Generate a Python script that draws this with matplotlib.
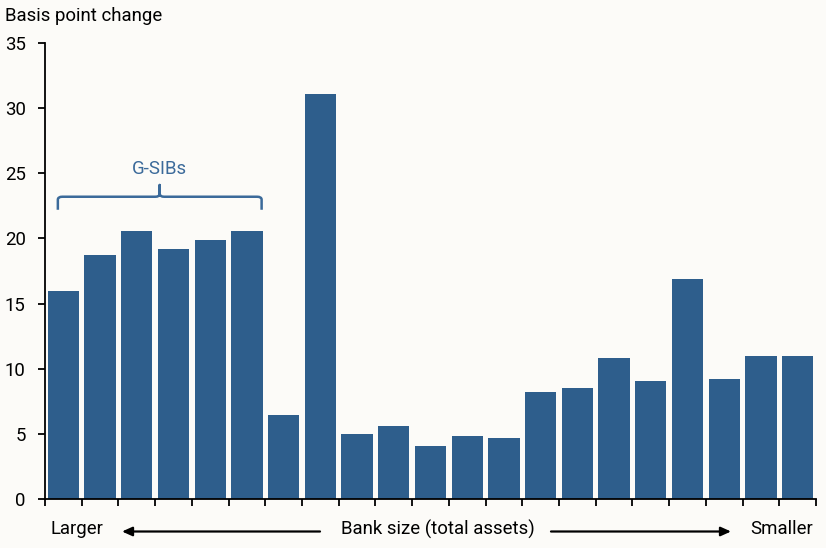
import matplotlib
matplotlib.use("Agg")
import matplotlib.pyplot as plt
from matplotlib.path import Path
from matplotlib.patches import PathPatch, FancyArrowPatch

plt.rcParams['font.family'] = ['Roboto', 'DejaVu Sans']

values = [16.0, 18.7, 20.6, 19.2, 19.9, 20.6, 6.45, 31.05, 5.0, 5.6, 4.07,
          4.84, 4.68, 8.2, 8.52, 10.82, 9.06, 16.88, 9.2, 10.97, 10.97]
y_ticks = [0, 5, 10, 15, 20, 25, 30, 35]
y_label = "Basis point change"
group_label = "G-SIBs"
bottom_left = "Larger"
bottom_mid = "Bank size (total assets)"
bottom_right = "Smaller"

bg = "#FCFBF8"
bar_color = "#2E5E8C"
brace_color = "#3B6A9A"
fs = 13.4

fig = plt.figure(figsize=(8.26, 5.48), dpi=100, facecolor=bg)
W, H = 826, 548
ax = fig.add_axes([45 / W, 1 - 499 / H, (816 - 45) / W, (499 - 43) / H])
ax.set_facecolor(bg)

x = list(range(len(values)))
ax.bar(x, values, width=0.85, color=bar_color, zorder=2)
ax.set_xlim(-0.5, len(values) - 0.5)
ax.set_ylim(0, 35)
ax.set_yticks(y_ticks)
ax.set_xticks([i - 0.5 for i in range(len(values) + 1)])
ax.set_xticklabels([])
for s in ['top', 'right']:
    ax.spines[s].set_visible(False)
for s in ['left', 'bottom']:
    ax.spines[s].set_linewidth(1.3)
    ax.spines[s].set_color('black')
ax.tick_params(axis='y', length=5, width=1.3, pad=9, labelsize=fs)
ax.tick_params(axis='x', length=5, width=1.3)

fig.text(5 / W, 1 - 16 / H, y_label, fontsize=fs, ha='left', va='center')

# brace
x0, x1 = -0.15, 5.4
xm = (x0 + x1) / 2
yb, ye, yt = 23.2, 22.2, 24.1
r = 0.12
ry = 0.45
verts = [
    (x0, ye), (x0, yb - ry * 0.5), (x0, yb), (x0 + r, yb),
    (xm - r, yb), (xm, yb), (xm, yb + ry * 0.5), (xm, yt),
    (xm, yb + ry * 0.5), (xm, yb), (xm + r, yb),
    (x1 - r, yb), (x1, yb), (x1, yb - ry * 0.5), (x1, ye),
]
codes = [Path.MOVETO, Path.LINETO, Path.CURVE3, Path.CURVE3,
         Path.LINETO, Path.CURVE3, Path.CURVE3, Path.LINETO,
         Path.LINETO, Path.CURVE3, Path.CURVE3,
         Path.LINETO, Path.CURVE3, Path.CURVE3, Path.LINETO]
ax.add_patch(PathPatch(Path(verts, codes), fill=False, edgecolor=brace_color,
                       linewidth=1.8, capstyle='butt', joinstyle='round', zorder=3))
ax.text(xm, 25.3, group_label, color=brace_color, fontsize=fs, ha='center', va='center')

# bottom labels and arrows
ty = 1 - 529 / H
fig.text(50 / W, ty, bottom_left, fontsize=fs, ha='left', va='center')
fig.text(437.5 / W, ty, bottom_mid, fontsize=fs, ha='center', va='center')
fig.text(813 / W, ty, bottom_right, fontsize=fs, ha='right', va='center')
ay = 1 - 531.5 / H
arrow = dict(arrowstyle='-|>,head_length=0.6,head_width=0.27', color='black', lw=1.6,
             shrinkA=0, shrinkB=0, mutation_scale=10)
fig.add_artist(FancyArrowPatch((320 / W, ay), (122 / W, ay),
               transform=fig.transFigure, **arrow))
fig.add_artist(FancyArrowPatch((551 / W, ay), (731 / W, ay),
               transform=fig.transFigure, **arrow))

fig.savefig("out.png", dpi=100, facecolor=bg)
